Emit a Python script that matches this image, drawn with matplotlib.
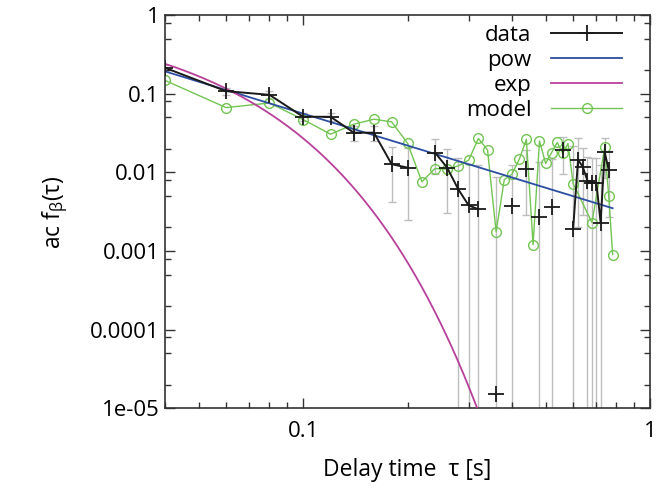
import matplotlib
matplotlib.use('Agg')
import matplotlib.pyplot as plt
import numpy as np
from matplotlib.ticker import FixedLocator, LogLocator, NullFormatter

plt.rcParams['font.family'] = ['Open Sans', 'DejaVu Sans']
plt.rcParams['mathtext.fontset'] = 'custom'
plt.rcParams['mathtext.rm'] = 'Open Sans'
plt.rcParams['mathtext.it'] = 'Open Sans'

nan = np.nan

# measured acf (nan = not shown on log axis)
tau = [0.04, 0.06, 0.08, 0.10, 0.12, 0.14, 0.16, 0.18, 0.20, 0.22,
       0.24, 0.26, 0.28, 0.30, 0.32, 0.34, 0.36, 0.38, 0.40, 0.42,
       0.44, 0.46, 0.48, 0.50, 0.52, 0.54, 0.56, 0.58, 0.60, 0.62,
       0.64, 0.66, 0.68, 0.70, 0.72, 0.74, 0.76]
acf = [0.214, 0.108, 0.097, 0.051, 0.051, 0.032, 0.032, 0.0127, 0.0115, nan,
       0.0179, 0.0115, 0.0061, 0.0038, 0.0034, nan, 1.5e-5, nan, 0.0037, nan,
       0.0112, nan, 0.0027, nan, 0.0036, nan, 0.019, nan, 0.0019, 0.0145,
       0.0117, 0.0078, 0.0074, 0.0074, 0.0023, 0.018, 0.0107]
acf_err = [0.02, 0.012, 0.012, 0.006, 0.006, 0.007, 0.007, 0.0085, 0.009, nan,
           0.0085, 0.0085, 0.009, 0.009, 0.009, nan, 0.0088, nan, 0.0088, nan,
           0.0083, nan, 0.011, nan, 0.011, nan, 0.0095, nan, 0.02, 0.0125,
           0.0088, 0.008, 0.008, 0.008, 0.01, 0.0095, 0.008]

# model curve
tau_model = [0.04, 0.06, 0.08, 0.10, 0.12, 0.14, 0.16, 0.18, 0.20, 0.22,
             0.24, 0.26, 0.28, 0.30, 0.32, 0.34, 0.36, 0.38, 0.40, 0.42,
             0.44, 0.46, 0.48, 0.50, 0.52, 0.54, 0.56, 0.58, 0.60, 0.68,
             0.74, 0.76, 0.78]
acf_model = [0.148, 0.0667, 0.0764, 0.047, 0.0306, 0.041, 0.0475, 0.0439, 0.0235, 0.0076,
             0.0112, 0.011, 0.0121, 0.0143, 0.027, 0.0193, 0.00175, 0.0081, 0.0095, 0.0148,
             0.0264, 0.0012, 0.0251, 0.013, 0.0178, 0.024, 0.0174, 0.0233, 0.0072, 0.0023,
             0.021, 0.005, 0.0009]

# fit parameters
pow_amp, pow_index = 0.0025, -1.35
exp_amp, exp_tau = 1.03, 0.0275

yticks = [1e-5, 1e-4, 1e-3, 1e-2, 1e-1, 1]
ytick_labels = ['1e-05', '0.0001', '0.001', '0.01', '0.1', '1']
xticks = [0.1, 1]
xtick_labels = ['0.1', '1']

fig = plt.figure(figsize=(6.6, 4.9), dpi=100)
ax = fig.add_axes([0.25, 0.167, 0.735, 0.802])

t_fit = np.linspace(0.04, 0.78, 400)
t_exp = np.linspace(0.04, 0.4, 400)

ax.errorbar(tau, acf, yerr=acf_err, fmt='none', ecolor='#bdbdbd', elinewidth=1.0,
            capsize=3, capthick=1.0, zorder=1)
ax.plot(tau, acf, color='#1a1a1a', lw=1.4, marker='+', ms=11, mew=1.3,
        label='data', zorder=4)
ax.plot(t_fit, pow_amp * t_fit ** pow_index, color='#2b4ea2', lw=1.3,
        label='pow', zorder=3)
ax.plot(t_exp, exp_amp * np.exp(-t_exp / exp_tau), color='#b8409a', lw=1.3,
        label='exp', zorder=3)
ax.plot(tau_model, acf_model, color='#72c552', lw=1.0, marker='o', ms=7,
        mfc='none', mec='#72c552', mew=1.0, label='model', zorder=2)

ax.set_xscale('log')
ax.set_yscale('log')
ax.set_xlim(0.04, 1)
ax.set_ylim(1e-5, 1)

ax.xaxis.set_major_locator(FixedLocator(xticks))
ax.set_xticklabels(xtick_labels)
ax.xaxis.set_minor_locator(LogLocator(base=10, subs=np.arange(2, 10)))
ax.xaxis.set_minor_formatter(NullFormatter())
ax.yaxis.set_major_locator(FixedLocator(yticks))
ax.set_yticklabels(ytick_labels)
ax.yaxis.set_minor_locator(LogLocator(base=10, subs=[2, 5, 8]))
ax.yaxis.set_minor_formatter(NullFormatter())

ax.tick_params(which='both', direction='in', top=True, right=True,
               labelsize=16, color='#333333')
ax.tick_params(which='major', length=7, width=1.0)
ax.tick_params(which='minor', length=4, width=1.0)
ax.tick_params(axis='y', pad=4)
ax.tick_params(axis='x', pad=9)
for sp in ax.spines.values():
    sp.set_color('#333333')
    sp.set_linewidth(1.2)

ax.set_xlabel('Delay time  τ [s]', fontsize=16.5, labelpad=12)
ax.set_ylabel(r'ac f$_{\beta}$(τ)', fontsize=16.5, labelpad=14)

ax.legend(loc='upper right', frameon=False, markerfirst=False, fontsize=16,
          handlelength=3.2, labelspacing=0.18, handletextpad=0.9,
          borderaxespad=0.3, bbox_to_anchor=(0.975, 1.014))

fig.savefig('out.png', dpi=100)
